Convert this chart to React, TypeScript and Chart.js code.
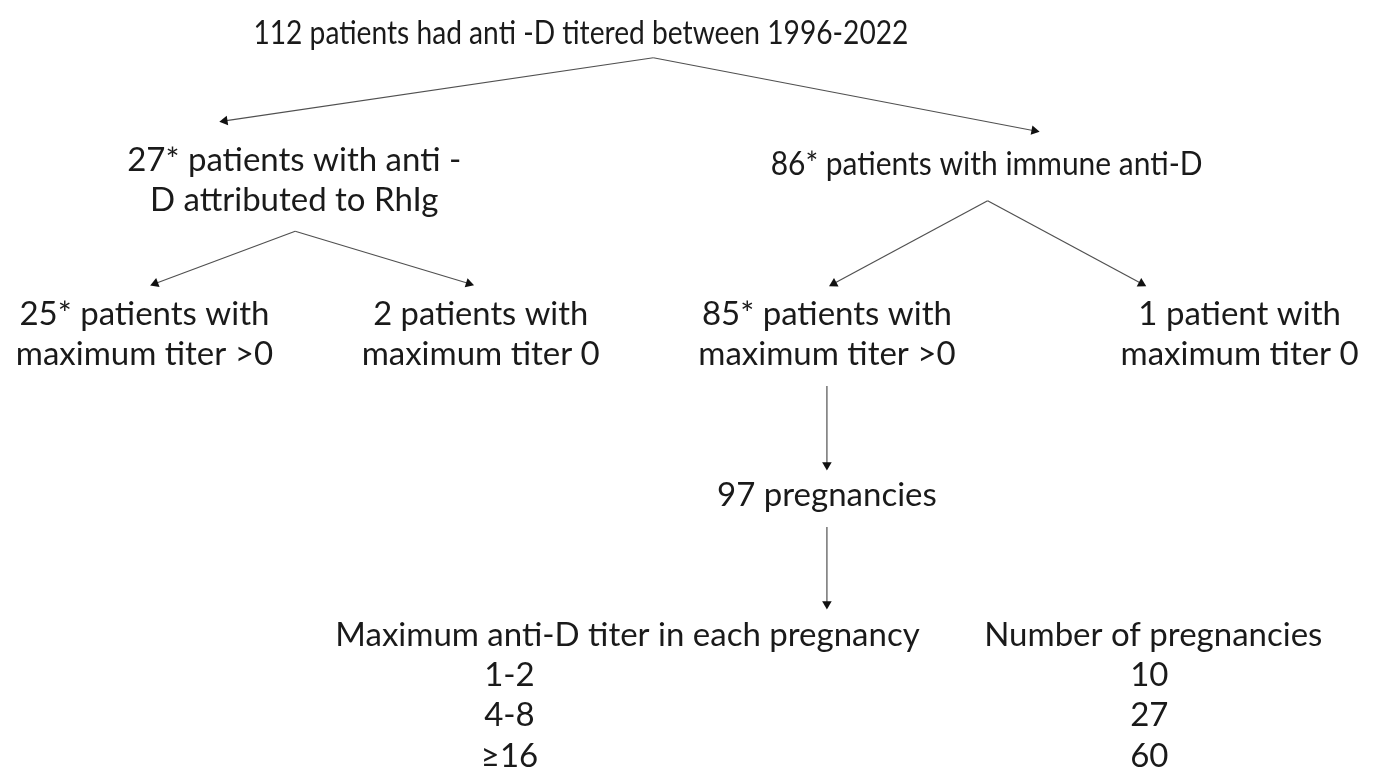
import React, { useEffect, useRef } from "react";
import { Chart, registerables } from "chart.js";

Chart.register(...registerables);

// ---- content ----
const rootLabel = "112 patients had anti -D titered between 1996-2022";
const level1Labels = [
  ["27* patients with anti -", "D attributed to RhIg"],
  ["86* patients with immune anti-D"],
];
const level2Labels = [
  ["25* patients with", "maximum titer >0"],
  ["2 patients with", "maximum titer 0"],
  ["85* patients with", "maximum titer >0"],
  ["1 patient with", "maximum titer 0"],
];
const pregnancyLabel = "97 pregnancies";
const tableHeaders = ["Maximum anti-D titer in each pregnancy", "Number of pregnancies"];
const titerCategories = ["1-2", "4-8", "≥16"];
const pregnancyCounts = [10, 27, 60];

// ---- layout (diagram coordinates, px of the 1383x784 canvas) ----
const W = 1383;
const H = 784;
const LINE_GAP = 41;
const textLayout: { lines: string[]; x: number; y: number; w: number[]; size?: number }[] = [
  { lines: [rootLabel], x: 580, y: 28, w: [655] },
  { lines: level1Labels[0], x: 291, y: 157, w: [350, 292] },
  { lines: level1Labels[1], x: 989, y: 161, w: [432] },
  { lines: level2Labels[0], x: 140, y: 313, w: [250, 260] },
  { lines: level2Labels[1], x: 479, y: 313, w: [215, 242] },
  { lines: level2Labels[2], x: 828, y: 313, w: [250, 262] },
  { lines: level2Labels[3], x: 1244, y: 313, w: [225, 248] },
  { lines: [pregnancyLabel], x: 828, y: 497, w: [221] },
  { lines: [tableHeaders[0]], x: 627, y: 639, w: [587] },
  { lines: [tableHeaders[1]], x: 1157, y: 639, w: [346] },
];
const tableColX = [508, 1153];
const tableRowY = [679, 720, 762];

const edges: [number, number, number, number][] = [
  [653, 53, 221, 117],
  [653, 53, 1037, 127],
  [292, 229, 151, 282],
  [292, 229, 467, 282],
  [990, 198, 835, 282],
  [990, 198, 1145, 282],
  [828, 386, 828, 466],
  [828, 529, 828, 607],
];

const FONT = "Lato, 'Noto Sans', sans-serif";
const FONT_SIZE = 33;
const TEXT_COLOR = "#1a1a1a";
const LINE_COLOR = "#505050";

export default function App() {
  const ref = useRef<HTMLCanvasElement | null>(null);

  useEffect(() => {
    document.body.style.margin = "0";
    const canvas = ref.current;
    if (!canvas) return;

    const datasets = edges.map(([x1, y1, x2, y2]) => {
      const rot = (Math.atan2(x2 - x1, -(y2 - y1)) * 180) / Math.PI;
      return {
        type: "scatter" as const,
        data: [
          { x: x1, y: y1 },
          { x: x2, y: y2 },
        ],
        showLine: true,
        borderColor: LINE_COLOR,
        borderWidth: 1.2,
        backgroundColor: "#111",
        pointBackgroundColor: "#111",
        pointBorderColor: "#111",
        pointBorderWidth: 0,
        pointStyle: "triangle" as const,
        pointRadius: [0, 5.5],
        pointRotation: [0, rot],
        pointHoverRadius: 0,
      };
    });

    const textPlugin = {
      id: "flowText",
      afterDatasetsDraw(chart: any) {
        const ctx = chart.ctx as CanvasRenderingContext2D;
        const xs = chart.scales.x;
        const ys = chart.scales.y;
        ctx.save();
        ctx.fillStyle = TEXT_COLOR;
        ctx.textAlign = "center";
        ctx.textBaseline = "middle";
        textLayout.forEach((t) => {
          ctx.font = `${t.size ?? FONT_SIZE}px ${FONT}`;
          t.lines.forEach((line, i) => {
            const px = xs.getPixelForValue(t.x);
            const py = ys.getPixelForValue(t.y + i * LINE_GAP);
            ctx.fillText(line, px, py, t.w[i]);
          });
        });
        ctx.font = `${FONT_SIZE}px ${FONT}`;
        titerCategories.forEach((c, i) => {
          ctx.fillText(c, xs.getPixelForValue(tableColX[0]), ys.getPixelForValue(tableRowY[i]));
          ctx.fillText(
            String(pregnancyCounts[i]),
            xs.getPixelForValue(tableColX[1]),
            ys.getPixelForValue(tableRowY[i])
          );
        });
        ctx.restore();
      },
    };

    const chart = new Chart(canvas, {
      type: "scatter",
      data: { datasets: datasets as any },
      options: {
        animation: false,
        responsive: false,
        maintainAspectRatio: false,
        layout: { padding: 0 },
        plugins: { legend: { display: false }, tooltip: { enabled: false } },
        events: [],
        scales: {
          x: { type: "linear", min: 0, max: W, display: false },
          y: { type: "linear", min: 0, max: H, reverse: true, display: false },
        },
      },
      plugins: [textPlugin],
    });

    return () => chart.destroy();
  }, []);

  return (
    <div style={{ width: W, height: H, background: "#fff" }}>
      <canvas ref={ref} width={W} height={H} style={{ display: "block" }} />
    </div>
  );
}
